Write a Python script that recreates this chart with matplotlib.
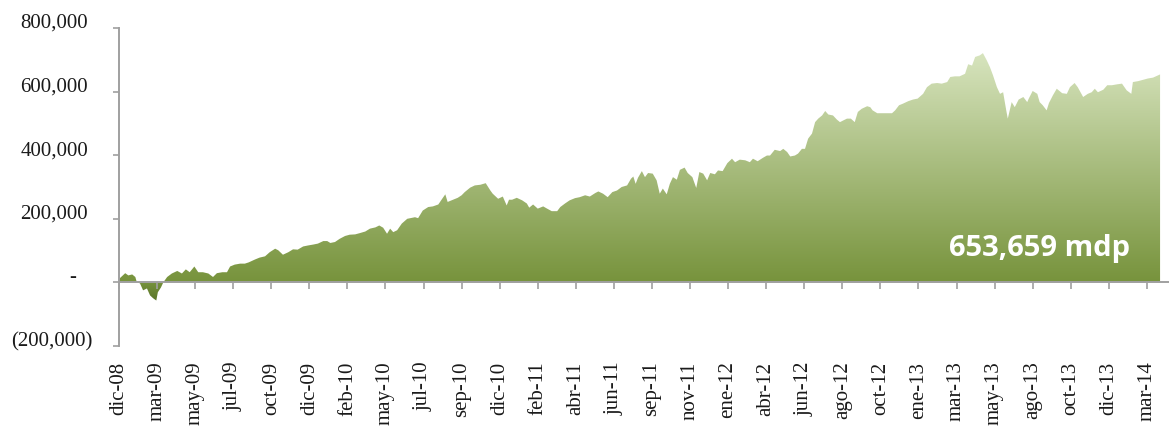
import numpy as np
import matplotlib
matplotlib.use('Agg')   # no display in the sandbox
import matplotlib.pyplot as plt
from matplotlib.colors import LinearSegmentedColormap


# ── Data (trading-day index, value in thousands of mdp) ──────────────────────

days = [0, 1, 8, 12, 17, 21, 23, 27, 31, 36, 40, 44, 48, 50, 54, 57, 62, 68,
        75, 81, 86, 91, 97, 102, 108, 115, 121, 126, 133, 139, 143, 149, 156,
        162, 167, 175, 181, 188, 194, 201, 205, 211, 218, 224, 230, 237, 243,
        250, 256, 263, 268, 272, 278, 284, 291, 297, 304, 310, 317, 323, 330,
        335, 340, 345, 349, 353, 358, 364, 371, 377, 381, 385, 391, 398, 404,
        411, 416, 420, 423, 430, 436, 441, 445, 452, 458, 465, 472, 478, 481,
        488, 494, 499, 502, 506, 512, 519, 525, 528, 533, 539, 546, 551, 557,
        564, 568, 574, 580, 587, 593, 600, 606, 613, 617, 623, 629, 635, 641,
        647, 654, 659, 662, 665, 668, 673, 677, 681, 687, 692, 696, 700, 705,
        709, 713, 718, 722, 728, 732, 738, 743, 747, 752, 757, 761, 767, 771,
        777, 783, 789, 793, 799, 806, 812, 816, 822, 829, 834, 838, 844, 851,
        855, 860, 864, 870, 874, 879, 883, 887, 892, 896, 900, 905, 909, 913,
        919, 924, 928, 932, 937, 942, 947, 951, 956, 963, 967, 970, 976, 982,
        988, 995, 999, 1004, 1009, 1016, 1022, 1028, 1035, 1040, 1046, 1053,
        1059, 1066, 1070, 1076, 1082, 1089, 1093, 1098, 1102, 1108, 1112, 1117,
        1121, 1125, 1130, 1134, 1138, 1142, 1144, 1149, 1153, 1158, 1164, 1169,
        1171, 1176, 1182, 1185, 1189, 1194, 1197, 1202, 1207, 1214, 1220, 1224,
        1230, 1234, 1241, 1247, 1252, 1256, 1260, 1267, 1272, 1278, 1285, 1291,
        1297, 1303, 1305, 1312, 1318, 1324, 1331, 1340]

values_k = [10, 13, 29, 22, 25, 17, 0, -3, -25, -19, -41, -50, -57, -31, -16,
            0, 17, 28, 36, 28, 41, 32, 50, 32, 32, 28, 17, 29, 32, 32, 50, 56,
            59, 59, 63, 72, 78, 82, 95, 106, 101, 87, 95, 104, 103, 113, 116,
            119, 122, 130, 130, 124, 127, 137, 146, 150, 151, 155, 160, 169,
            173, 179, 172, 153, 169, 158, 164, 185, 200, 203, 205, 202, 226,
            237, 239, 245, 263, 277, 253, 260, 266, 274, 284, 298, 305, 307,
            312, 289, 279, 263, 270, 242, 260, 260, 266, 258, 248, 235, 245,
            232, 239, 232, 224, 224, 237, 248, 258, 265, 268, 274, 270, 281,
            286, 279, 268, 284, 289, 300, 305, 326, 333, 310, 329, 350, 331,
            344, 342, 321, 279, 295, 277, 310, 331, 323, 354, 361, 344, 331,
            297, 347, 342, 321, 344, 340, 352, 350, 375, 389, 378, 386, 384,
            378, 389, 381, 392, 399, 399, 417, 413, 420, 410, 396, 399, 405,
            420, 420, 452, 468, 504, 515, 525, 539, 528, 525, 512, 504, 509,
            515, 515, 504, 536, 546, 554, 551, 541, 532, 532, 532, 532, 541,
            557, 562, 570, 575, 578, 593, 614, 625, 627, 625, 630, 646, 648,
            648, 656, 686, 682, 709, 714, 721, 698, 677, 651, 614, 593, 598,
            541, 515, 567, 551, 575, 583, 567, 578, 602, 593, 567, 557, 541,
            564, 588, 609, 595, 593, 614, 627, 614, 583, 593, 598, 609, 598,
            606, 620, 620, 623, 625, 604, 593, 630, 633, 637, 641, 644, 654]

tick_labels = ['dic-08', 'mar-09', 'may-09', 'jul-09', 'oct-09', 'dic-09',
               'feb-10', 'may-10', 'jul-10', 'sep-10', 'dic-10', 'feb-11',
               'abr-11', 'jun-11', 'sep-11', 'nov-11', 'ene-12', 'abr-12',
               'jun-12', 'ago-12', 'oct-12', 'ene-13', 'mar-13', 'may-13',
               'ago-13', 'oct-13', 'dic-13', 'mar-14']
days_per_tick = 49

y_ticks  = [-200000, 0, 200000, 400000, 600000, 800000]
y_labels = ['(200,000)', '-', '200,000', '400,000', '600,000', '800,000']
final_label = '653,659 mdp'


# ── Figure ───────────────────────────────────────────────────────────────────

serif = 'Liberation Serif'
text_color = '#1a1a1a'
axis_color = '#a0a0a0'

x = np.array(days)
y = np.array(values_k) * 1000.0

fig = plt.figure(figsize=(11.69, 4.29), dpi=100)
ax = fig.add_axes([119 / 1169, 83 / 429, 1050 / 1169, 318 / 429])
ax.set_xlim(0, 1351.5)
ax.set_ylim(-200000, 800000)

# gradient fill clipped to the area under the series
poly = ax.fill_between(x, y, 0, facecolor='none', edgecolor='none')
cmap = LinearSegmentedColormap.from_list(
    'olive', [(0.0, '#5a752a'), (0.075, '#77933c'), (1.0, '#d8e5bf')])
vmin, vmax = -60000, 725000
grad = np.linspace(vmin, vmax, 512).reshape(-1, 1)
img = ax.imshow(grad, extent=[x[0], x[-1], vmin, vmax], origin='lower',
                aspect='auto', cmap=cmap, vmin=vmin, vmax=vmax, zorder=1)
img.set_clip_path(poly.get_paths()[0], transform=ax.transData)

# spines
for side in ('top', 'right'):
    ax.spines[side].set_visible(False)
ax.spines['bottom'].set_position(('data', 0))
ax.spines['bottom'].set_color(axis_color)
ax.spines['left'].set_color(axis_color)
ax.spines['bottom'].set_linewidth(1.4)
ax.spines['left'].set_linewidth(1.4)
ax.spines['bottom'].set_zorder(3)

# x axis: ticks on the zero line, labels below the plot
ax.set_xticks(np.arange(len(tick_labels)) * days_per_tick)
ax.set_xticklabels(tick_labels, rotation=90, fontsize=15, family=serif,
                   color=text_color, va='top')
ax.tick_params(axis='x', direction='out', length=5, width=1.2,
               color=axis_color, pad=52)

# y axis: ticks only, labels placed by hand (accounting-style alignment)
ax.set_yticks(y_ticks)
ax.set_yticklabels([])
ax.tick_params(axis='y', direction='out', length=4.3, width=1.2,
               color=axis_color)
right_edge_px = {'(200,000)': 27, '-': 43}
for val, lab in zip(y_ticks, y_labels):
    off = right_edge_px.get(lab, 31) * 0.72
    ax.annotate(lab, xy=(0, val), xycoords=ax.get_yaxis_transform(),
                xytext=(-off, 0), textcoords='offset points',
                ha='right', va='baseline', fontsize=15, family=serif,
                color=text_color, annotation_clip=False)

# closing value
ax.text(1185, 82000, final_label, ha='center', va='baseline', fontsize=21,
        fontweight='bold', family='Open Sans', color='white', zorder=4)

fig.savefig('out.png', dpi=100)
